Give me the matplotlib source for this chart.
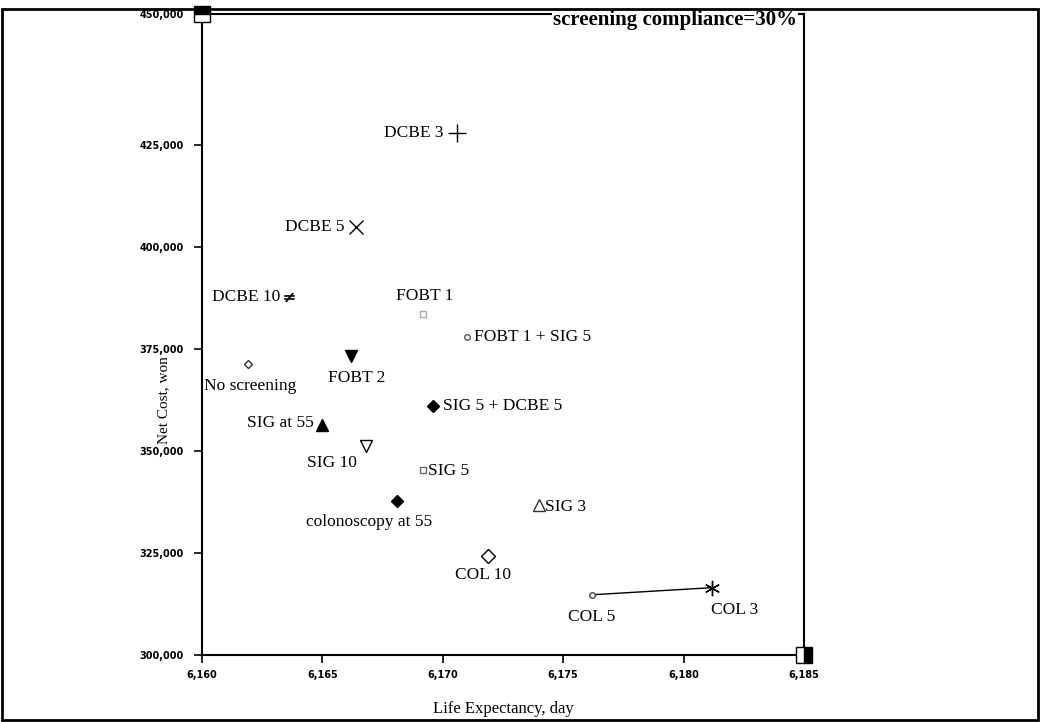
import numpy as np
import matplotlib.pyplot as plt
from matplotlib.patches import Rectangle
from matplotlib.ticker import FuncFormatter

# strategies: life expectancy (days) and net cost (won)
names = ["DCBE 3", "DCBE 5", "DCBE 10", "FOBT 1", "FOBT 1 + SIG 5", "No screening",
         "FOBT 2", "SIG 5 + DCBE 5", "SIG at 55", "SIG 10", "SIG 5",
         "colonoscopy at 55", "SIG 3", "COL 10", "COL 5", "COL 3"]
life = [6170.6, 6166.4, 6163.6, 6169.2, 6171.0, 6161.9,
        6166.2, 6169.6, 6165.0, 6166.8, 6169.2,
        6168.1, 6174.0, 6171.9, 6176.2, 6181.2]
cost = [427300, 404900, 387700, 383600, 377900, 371300,
        373300, 361000, 356400, 351200, 345400,
        337600, 336700, 324250, 314750, 316500]

# frontier segment
front = ["COL 5", "COL 3"]

# axis corner markers
corner_x = [6160, 6185]
corner_y = [450000, 300000]

xticks = [6160, 6165, 6170, 6175, 6180, 6185]
yticks = [300000, 325000, 350000, 375000, 400000, 425000, 450000]

# marker, size, face, edge ; label offset (pts), ha, va
style = {
    "DCBE 3": ("+", 13, "k", "k", (-10, 0), "right", "center"),
    "DCBE 5": ("x", 10, "k", "k", (-8, 0), "right", "center"),
    "DCBE 10": ("$\\neq$", 7, "k", "k", (-6, 0), "right", "center"),
    "FOBT 1": ("s", 4, "none", "#aaaaaa", (1, 13), "center", "center"),
    "FOBT 1 + SIG 5": ("o", 4, "white", "#555555", (5, 0), "left", "center"),
    "No screening": ("D", 4, "white", "#333333", (2, -16), "center", "center"),
    "FOBT 2": ("v", 8, "k", "k", (4, -16), "center", "center"),
    "SIG 5 + DCBE 5": ("D", 6, "k", "k", (7, 0), "left", "center"),
    "SIG at 55": ("^", 8, "k", "k", (-6, 1), "right", "center"),
    "SIG 10": ("v", 8, "white", "k", (-6, -12), "right", "center"),
    "SIG 5": ("s", 5, "white", "#666666", (3, -1), "left", "center"),
    "colonoscopy at 55": ("D", 6, "k", "k", (-20, -15), "center", "center"),
    "SIG 3": ("^", 8, "white", "#333333", (4, -1), "left", "center"),
    "COL 10": ("D", 7, "white", "k", (-4, -14), "center", "center"),
    "COL 5": ("o", 4, "white", "#444444", (0, -16), "center", "center"),
    "COL 3": ((6, 2, 0), 11, "k", "k", (16, -16), "center", "center"),
}

serif = "Liberation Serif"


# stretched top segment of the cost axis, as in the original
def fwd(v):
    v = np.asarray(v, dtype=float)
    return np.where(v > 425000, 425000 + 1.28 * (v - 425000), v)


def inv(v):
    v = np.asarray(v, dtype=float)
    return np.where(v > 425000, 425000 + (v - 425000) / 1.28, v)


fig = plt.figure(figsize=(10.4, 7.22), dpi=100)
ax = fig.add_axes([0.1942, 0.0928, 0.5788, 0.8878])
ax.set_yscale("function", functions=(fwd, inv))

for n, x, y in zip(names, life, cost):
    m, ms, fc, ec, off, ha, va = style[n]
    mew = 0.4 if n == "DCBE 10" else 1.0
    ax.plot([x], [y], linestyle="none", marker=m, markersize=ms,
            markerfacecolor=fc, markeredgecolor=ec, markeredgewidth=mew, zorder=3)
    ax.annotate(n, (x, y), xytext=off, textcoords="offset points",
                ha=ha, va=va, fontsize=12.5, family=serif)

fx = [life[names.index(n)] for n in front]
fy = [cost[names.index(n)] for n in front]
ax.plot(fx, fy, color="k", lw=1.0, zorder=2)

ax.plot([corner_x[0]], [corner_y[0]], marker="s", markersize=11, fillstyle="top",
        markerfacecolor="k", markerfacecoloralt="white", markeredgecolor="k",
        linestyle="none", clip_on=False, zorder=4)
ax.plot([corner_x[1]], [corner_y[1]], marker="s", markersize=11, fillstyle="right",
        markerfacecolor="k", markerfacecoloralt="white", markeredgecolor="k",
        linestyle="none", clip_on=False, zorder=4)

ax.set_xlim(6160, 6185)
ax.set_ylim(300000, 450000)
ax.set_xticks(xticks)
ax.set_yticks(yticks)
ax.minorticks_off()
fmt = FuncFormatter(lambda v, p: f"{int(round(v)):,}")
ax.xaxis.set_major_formatter(fmt)
ax.yaxis.set_major_formatter(fmt)
ax.tick_params(direction="out", length=6, width=1.2, labelsize=7)
ax.tick_params(axis="y", pad=7)
ax.tick_params(axis="x", pad=5)
for lab in ax.get_xticklabels() + ax.get_yticklabels():
    lab.set_fontweight("bold")
for s in ax.spines.values():
    s.set_linewidth(1.5)

ax.set_xlabel("Life Expectancy, day", fontsize=12, family=serif)
ax.xaxis.set_label_coords(0.5, -0.072)
ax.set_ylabel("Net Cost, won", fontsize=11, family=serif)
ax.yaxis.set_label_coords(-0.052, 0.398)

ax.annotate("screening compliance=30%", (1, 1), xycoords="axes fraction",
            xytext=(-5, -4), textcoords="offset points", ha="right", va="center",
            fontsize=15, fontweight="bold", family=serif, zorder=5,
            bbox=dict(facecolor="white", edgecolor="none", pad=0.5))

fig.patches.append(Rectangle((0.002, 0.003), 0.996, 0.985, transform=fig.transFigure,
                             fill=False, edgecolor="k", lw=2))

plt.savefig("out.png", dpi=100)
